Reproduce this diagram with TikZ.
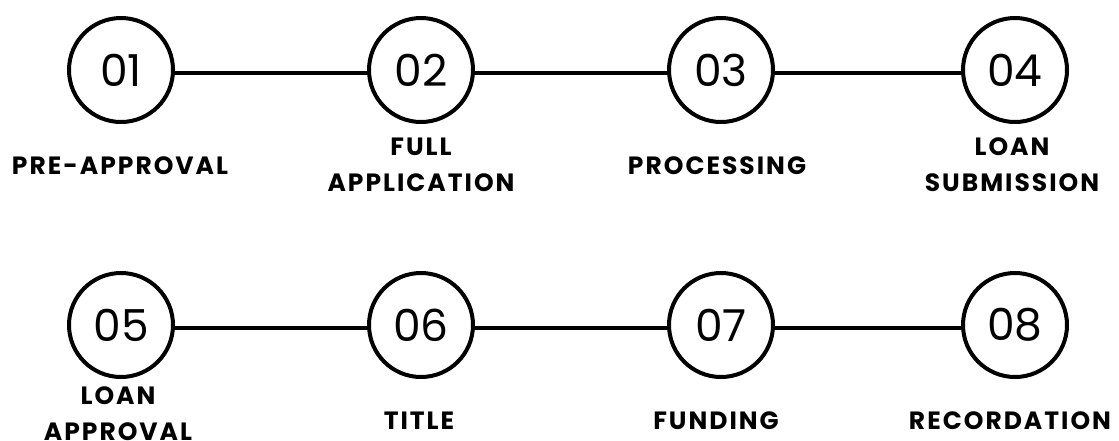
\documentclass[tikz,border=0pt]{standalone}
\usepackage{fontspec}
\setmainfont{Poppins}
\usepackage{tikz}
\usetikzlibrary{positioning}

\begin{document}
\begin{tikzpicture}[x=1pt,y=-1pt,
stage/.style={circle,draw=black,line width=4pt,minimum size=104pt,inner sep=0pt,font=\fontsize{44}{44}\selectfont},
lbl/.style={align=center,font=\fontsize{25}{36}\selectfont\bfseries\addfontfeature{LetterSpace=8}},
link/.style={line width=4pt,draw=black}]
\useasboundingbox (0,0) rectangle (1119,440);
% top row
\node[stage] (s1) at (121,70) {01};
\node[stage] (s2) at (421,70) {02};
\node[stage] (s3) at (721,70) {03};
\node[stage] (s4) at (1015,70) {04};
% bottom row
\node[stage] (s5) at (121,325) {05};
\node[stage] (s6) at (421,325) {06};
\node[stage] (s7) at (721,325) {07};
\node[stage] (s8) at (1015,325) {08};
\node[lbl] (l1) at (120,166) {PRE-APPROVAL};
\node[lbl] (l2) at (421,165) {FULL\\APPLICATION};
\node[lbl] (l3) at (717,166) {PROCESSING};
\node[lbl] (l4) at (1012,165) {LOAN\\SUBMISSION};
\node[lbl] (l5) at (118,414) {LOAN\\APPROVAL};
\node[lbl] (l6) at (419,421) {TITLE};
\node[lbl] (l7) at (716,421) {FUNDING};
\node[lbl] (l8) at (1010,421) {RECORDATION};
\draw[link] ([yshift=-3pt]s1.east)--([yshift=-3pt]s2.west);\draw[link] ([yshift=-3pt]s2.east)--([yshift=-3pt]s3.west);
\draw[link] ([yshift=-3pt]s3.east)--([yshift=-3pt]s4.west);
\draw[link] ([yshift=-3pt]s5.east)--([yshift=-3pt]s6.west);\draw[link] ([yshift=-3pt]s6.east)--([yshift=-3pt]s7.west);
\draw[link] ([yshift=-3pt]s7.east)--([yshift=-3pt]s8.west);
\end{tikzpicture}
\end{document}
